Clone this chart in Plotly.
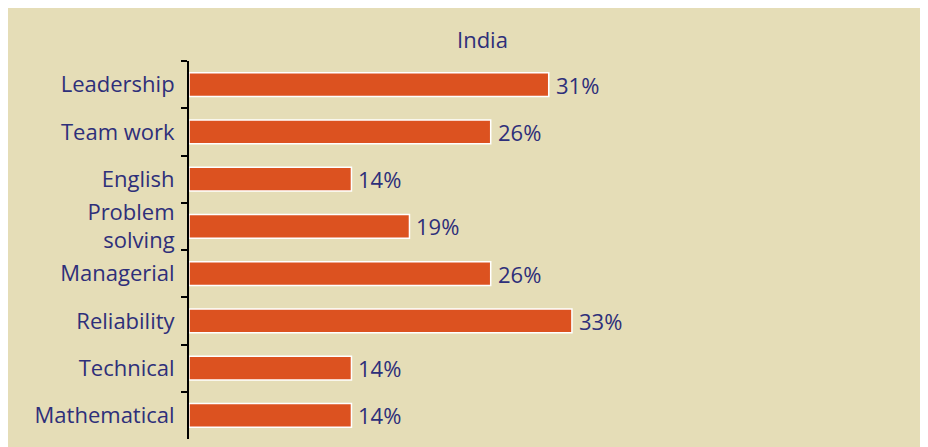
import plotly.graph_objects as go

categories = ["Leadership", "Team work", "English", "Problem<br>solving",
              "Managerial", "Reliability", "Technical", "Mathematical"]
values = [31, 26, 14, 19, 26, 33, 14, 14]
title_text = "India"

W, H = 914, 440
L, R, T, B = 181, 147, 53, 9
ph = H - T - B

NAVY = "#2E2F7A"
BEIGE = "#E5DDB7"
ORANGE = "#DC5220"
FONT = "Open Sans"
FS = 22

fig = go.Figure(go.Bar(
    x=values, y=categories, orientation="h",
    width=0.5,
    marker=dict(color=ORANGE, line=dict(color="white", width=1.5)),
    cliponaxis=False,
))

for c, v in zip(categories, values):
    fig.add_annotation(x=v, y=c, text=f"{v}%", showarrow=False,
                       xanchor="left", yanchor="middle", xshift=5,
                       font=dict(family=FONT, size=FS, color=NAVY))

fig.add_annotation(text=title_text, xref="paper", yref="paper",
                   x=0.5, y=(H - B - 31) / ph, showarrow=False,
                   xanchor="center", yanchor="middle",
                   font=dict(family=FONT, size=FS, color=NAVY))

fig.update_layout(
    width=W, height=H,
    margin=dict(l=L, r=R, t=T, b=B, autoexpand=False),
    paper_bgcolor=BEIGE, plot_bgcolor=BEIGE,
    showlegend=False,
    xaxis=dict(range=[0, 50.5], visible=False, automargin=False),
    yaxis=dict(autorange="reversed", showline=True, linecolor="black", linewidth=2,
               ticks="outside", ticklen=6, tickwidth=2, tickcolor="black",
               tickson="boundaries", showgrid=False, automargin=False,
               ticklabelstandoff=8,
               tickfont=dict(family=FONT, size=FS, color=NAVY)),
)

fig.write_html("out.html")
